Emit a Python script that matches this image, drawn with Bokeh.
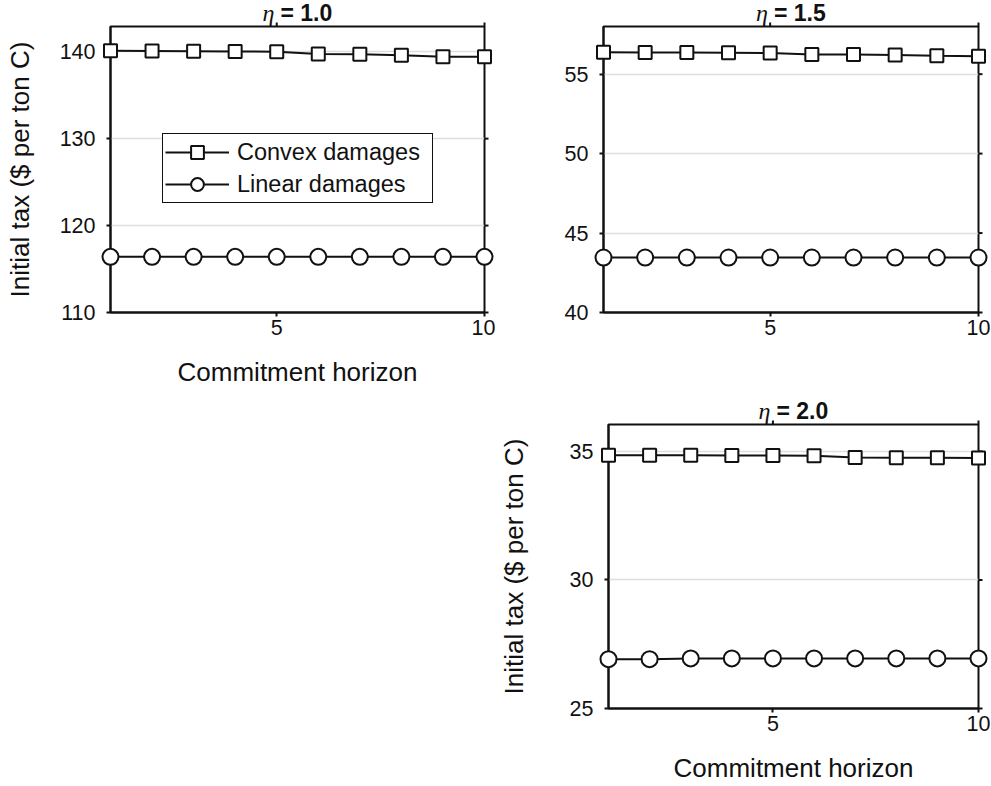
import math
from bokeh.plotting import figure
from bokeh.models import (Range1d, FixedTicker, Legend, LegendItem, ColumnDataSource, Spacer)
from bokeh.core.properties import value
from bokeh.layouts import column, row
from bokeh.embed import file_html
from bokeh.resources import INLINE

# ---------------- data ----------------
horizon = [1, 2, 3, 4, 5, 6, 7, 8, 9, 10]

convex_eta10 = [140.1, 140.08, 140.06, 140.03, 140.0, 139.75, 139.7, 139.6, 139.42, 139.42]
linear_eta10 = [116.4, 116.4, 116.4, 116.4, 116.4, 116.4, 116.4, 116.4, 116.4, 116.4]

convex_eta15 = [56.38, 56.37, 56.36, 56.35, 56.33, 56.24, 56.23, 56.21, 56.16, 56.13]
linear_eta15 = [43.46, 43.46, 43.46, 43.46, 43.46, 43.46, 43.46, 43.46, 43.46, 43.46]

convex_eta20 = [34.85, 34.85, 34.85, 34.84, 34.84, 34.83, 34.77, 34.76, 34.76, 34.75]
linear_eta20 = [26.92, 26.92, 26.95, 26.95, 26.95, 26.95, 26.95, 26.95, 26.95, 26.95]

xticks = [5, 10]
yticks_eta10 = [110, 120, 130, 140]
yticks_eta15 = [40, 45, 50, 55]
yticks_eta20 = [25, 30, 35]

eta_symbol = "\u03b7"
eta_labels = ["= 1.0", "= 1.5", "= 2.0"]
series_names = ["Convex damages", "Linear damages"]
xlabel = "Commitment horizon"
ylabel = "Initial tax ($ per ton C)"

FONT = "Liberation Sans"
INK = "#111111"
LW = 2.0


def style_axis(ax):
    ax.axis_line_color = INK
    ax.axis_line_width = LW
    ax.major_tick_line_color = INK
    ax.major_tick_line_width = LW
    ax.major_tick_out = 4
    ax.major_tick_in = 0
    ax.minor_tick_out = 0
    ax.minor_tick_in = 0
    ax.major_label_text_font = FONT
    ax.major_label_text_font_size = "21.5px"
    ax.major_label_text_color = INK
    ax.axis_label_text_font = FONT
    ax.axis_label_text_font_size = "26px"
    ax.axis_label_text_font_style = "normal"
    ax.axis_label_text_color = INK


def make_panel(width, height, borders, yr, yticks, convex, linear, eta_text,
               show_xlabel, show_ylabel, ylabel_standoff, with_legend):
    left, right, top, bottom = borders
    p = figure(width=width, height=height, output_backend="svg", toolbar_location=None,
               x_range=Range1d(horizon[0], horizon[-1]), y_range=Range1d(*yr),
               min_border_left=left, min_border_right=right,
               min_border_top=top, min_border_bottom=bottom)
    p.outline_line_color = INK
    p.outline_line_width = LW
    p.outline_line_alpha = 1.0
    p.background_fill_color = "white"
    p.border_fill_color = "white"

    xt = FixedTicker(ticks=xticks)
    yt = FixedTicker(ticks=yticks)
    p.xaxis.ticker = xt
    p.yaxis.ticker = yt
    p.xgrid.visible = False
    p.ygrid.ticker = yt
    p.ygrid.grid_line_color = "#dedede"
    p.ygrid.grid_line_width = 1.3

    for ax in p.xaxis:
        style_axis(ax)
        ax.major_label_standoff = 3
        if show_xlabel:
            ax.axis_label = xlabel
            ax.axis_label_standoff = 19
    for ax in p.yaxis:
        style_axis(ax)
        ax.major_label_standoff = 11
        if show_ylabel:
            ax.axis_label = ylabel
            ax.axis_label_standoff = ylabel_standoff

    # outward ticks on the top and right edges of the box
    p.ray(x=xticks, y=[yr[1]] * len(xticks), length=4, length_units="screen",
          angle=math.pi / 2, line_color=INK, line_width=LW, level="overlay")
    p.ray(x=[horizon[-1]] * len(yticks), y=yticks, length=4, length_units="screen",
          angle=0, line_color=INK, line_width=LW, level="overlay")

    src = ColumnDataSource(dict(x=horizon, c=convex, l=linear))
    lc = p.line("x", "c", source=src, line_color=INK, line_width=LW, level="overlay")
    sc = p.scatter("x", "c", source=src, marker="square", size=13, fill_color="white",
                   line_color=INK, line_width=LW, level="overlay")
    ll = p.line("x", "l", source=src, line_color=INK, line_width=LW, level="overlay")
    sl = p.scatter("x", "l", source=src, marker="circle", size=16, fill_color="white",
                   line_color=INK, line_width=LW, level="overlay")

    # title: italic eta + bold value, centred over the box
    xmid = (horizon[0] + horizon[-1]) / 2
    p.text(x=[xmid], y=[yr[1]], text=[eta_symbol], x_offset=-23, y_offset=-14,
           text_align="right", text_baseline="alphabetic",
           text_font=value("Liberation Serif"), text_font_style="italic",
           text_font_size=value("24px"), text_color=INK, level="overlay")
    p.text(x=[xmid], y=[yr[1]], text=[eta_text], x_offset=-17, y_offset=-14,
           text_align="left", text_baseline="alphabetic",
           text_font=value(FONT), text_font_style="bold",
           text_font_size=value("23px"), text_color=INK, level="overlay")

    if with_legend:
        legend = Legend(items=[LegendItem(label=series_names[0], renderers=[lc, sc]),
                               LegendItem(label=series_names[1], renderers=[ll, sl])],
                        location=(52, 109))
        legend.label_text_font = FONT
        legend.label_text_font_size = "23.5px"
        legend.label_text_color = INK
        legend.glyph_width = 64
        legend.glyph_height = 32
        legend.label_height = 32
        legend.label_width = 193
        legend.label_standoff = 8
        legend.padding = 2
        legend.spacing = 0
        legend.margin = 0
        legend.border_line_color = INK
        legend.border_line_width = 1.6
        legend.border_line_alpha = 1.0
        legend.background_fill_color = "white"
        legend.background_fill_alpha = 1.0
        p.add_layout(legend, "center")
    return p


p1 = make_panel(495, 390, (110, 11, 26, 78), (110, 142.9), yticks_eta10,
                convex_eta10, linear_eta10, eta_labels[0], True, True, 22, True)
p2 = make_panel(496, 390, (108, 13, 26, 78), (40, 58), yticks_eta15,
                convex_eta15, linear_eta15, eta_labels[1], False, False, 22, False)
p3 = make_panel(496, 396, (108, 13, 34, 78), (25, 36.05), yticks_eta20,
                convex_eta20, linear_eta20, eta_labels[2], True, True, 38, False)

layout = column(row(p1, p2), row(Spacer(width=495, height=396), p3))

open("out.html", "w").write(file_html(layout, INLINE))
